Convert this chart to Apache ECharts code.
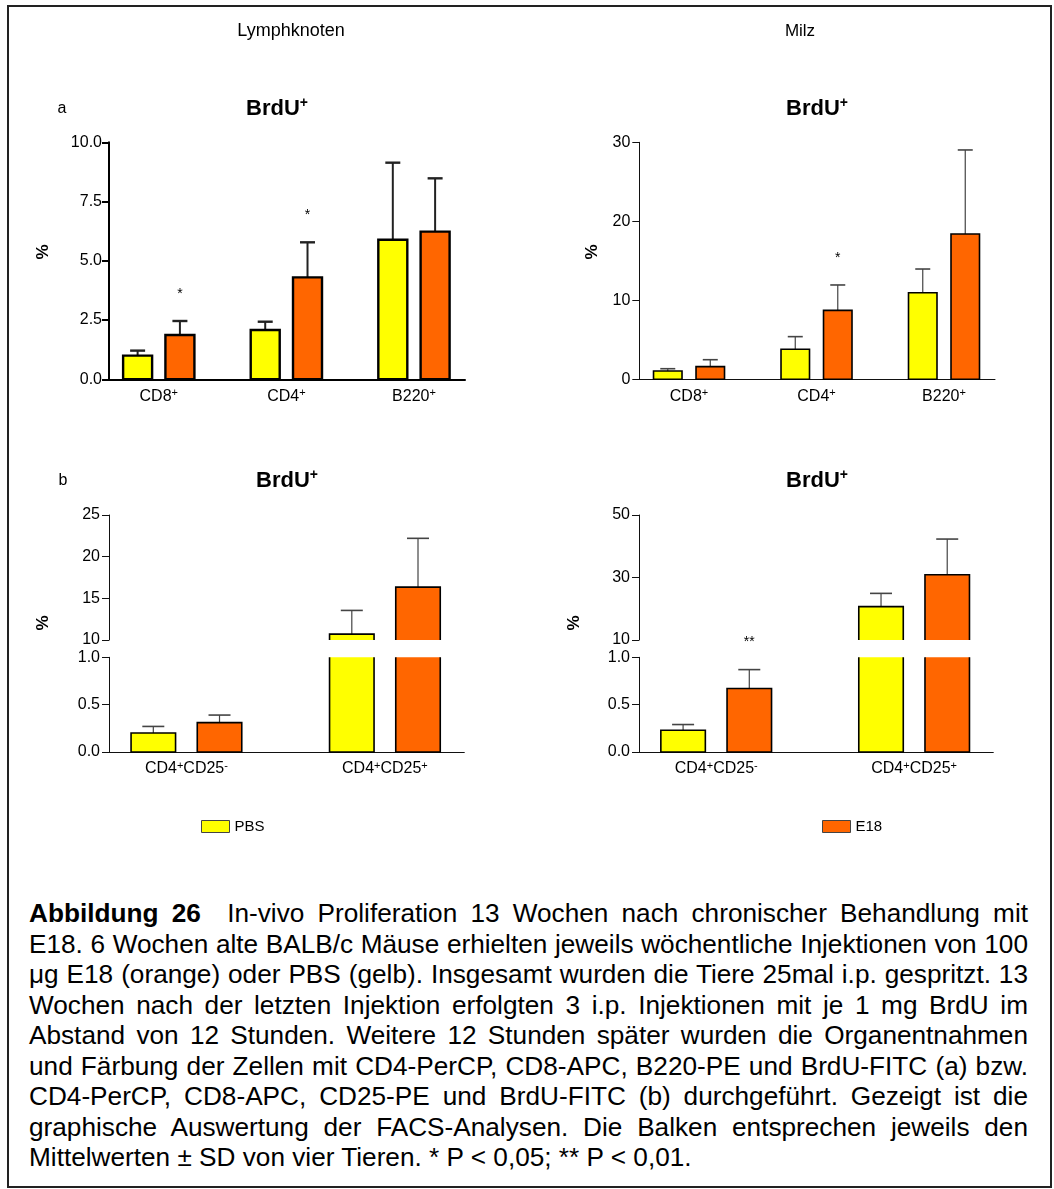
<!DOCTYPE html>
<html>
<head>
<meta charset="utf-8">
<script src="https://cdn.jsdelivr.net/npm/echarts@6/dist/echarts.min.js"></script>
<style>
html, body { margin: 0; padding: 0; background: #fff; }
#frame { position: absolute; left: 7px; top: 5px; width: 1045px; height: 1183px; border: 2px solid #222; box-sizing: border-box; }
#chart { position: absolute; left: 0; top: 0; width: 1054px; height: 870px; }
#caption { position: absolute; left: 29px; top: 898px; width: 999px; font-family: "Liberation Sans", Arial, Helvetica, sans-serif; font-size: 26.2px; line-height: 30.5px; color: #000; }
#caption .j { text-align: justify; text-align-last: justify; white-space: nowrap; }
#caption .l { text-align: left; white-space: nowrap; }
</style>
</head>
<body>
<div id="frame"></div>
<div id="chart"></div>
<div id="caption">
<div class="j"><b>Abbildung 26</b>&nbsp; In-vivo Proliferation 13 Wochen nach chronischer Behandlung mit</div>
<div class="j">E18. 6 Wochen alte BALB/c Mäuse erhielten jeweils wöchentliche Injektionen von 100</div>
<div class="j">μg E18 (orange) oder PBS (gelb). Insgesamt wurden die Tiere 25mal i.p. gespritzt. 13</div>
<div class="j">Wochen nach der letzten Injektion erfolgten 3 i.p. Injektionen mit je 1 mg BrdU im</div>
<div class="j">Abstand von 12 Stunden. Weitere 12 Stunden später wurden die Organentnahmen</div>
<div class="j">und Färbung der Zellen mit CD4-PerCP, CD8-APC, B220-PE und BrdU-FITC (a) bzw.</div>
<div class="j">CD4-PerCP, CD8-APC, CD25-PE und BrdU-FITC (b) durchgeführt. Gezeigt ist die</div>
<div class="j">graphische Auswertung der FACS-Analysen. Die Balken entsprechen jeweils den</div>
<div class="l">Mittelwerten ± SD von vier Tieren. * P &lt; 0,05; ** P &lt; 0,01.</div>
</div>
<script>
// ---------------- DATA ----------------
const catsA = ['CD8+', 'CD4+', 'B220+'];
const catsB = ['CD4+CD25-', 'CD4+CD25+'];

// a) Lymphknoten
const lnA_pbsMean = [1.00, 2.08, 5.89];
const lnA_pbsSD   = [0.21, 0.35, 3.25];
const lnA_e18Mean = [1.87, 4.30, 6.23];
const lnA_e18SD   = [0.59, 1.48, 2.25];
const lnA_sig     = ['*', '*', ''];

// a) Milz
const mzA_pbsMean = [1.05, 3.80, 10.96];
const mzA_pbsSD   = [0.29, 1.60, 3.00];
const mzA_e18Mean = [1.60, 8.73, 18.39];
const mzA_e18SD   = [0.88, 3.21, 10.64];
const mzA_sig     = ['', '*', ''];

// b) Lymphknoten
const lnB_pbsMean = [0.20, 10.70];
const lnB_pbsSD   = [0.07, 2.85];
const lnB_e18Mean = [0.31, 16.35];
const lnB_e18SD   = [0.08, 5.85];
const lnB_sig     = ['', ''];

// b) Milz
const mzB_pbsMean = [0.23, 20.67];
const mzB_pbsSD   = [0.06, 4.25];
const mzB_e18Mean = [0.67, 30.90];
const mzB_e18SD   = [0.20, 11.40];
const mzB_sig     = ['**', ''];

// tick labels
const ticksLnA = [0, 2.5, 5, 7.5, 10];
const ticksMzA = [0, 10, 20, 30];
const ticksLnBup = [10, 15, 20, 25];
const ticksMzBup = [10, 30, 50];
const ticksBlow = [0, 0.5, 1];

// ---------------- STYLE ----------------
const FONT = '"Liberation Sans", Arial, Helvetica, sans-serif';
const YELLOW = '#FFFF00', ORANGE = '#FF6600';
const STY = {
  bold: { axisW: 2, axisColor: '#000', barBorder: 2.4, errW: 2, errColor: '#222', tickLen: 7, labelMargin: 7 },
  thin: { axisW: 1, axisColor: '#111', barBorder: 1.6, errW: 1.2, errColor: '#444', tickLen: 7, labelMargin: 9 }
};

function toRich(label) {
  return label.replace(/([^+\-]+)|([+\-])/g, (m, a, b) => a ? '{n|' + a + '}' : '{s|' + b + '}');
}
const xRich = {
  n: { fontSize: 16, fontFamily: FONT, color: '#000', lineHeight: 18 },
  s: { fontSize: 11, fontFamily: FONT, color: '#000', verticalAlign: 'top', lineHeight: 18 }
};

// segments (grids)
const segments = [
  { left: 109, right: 465, top: 142.3, bottom: 379.3, yMin: 0, yMax: 10, ticks: ticksLnA, dec: 1, showX: true,
    cats: catsA, pm: lnA_pbsMean, ps: lnA_pbsSD, em: lnA_e18Mean, es: lnA_e18SD, sig: lnA_sig,
    sty: STY.bold, barW: 29, off: 21.15, cap: 15 },
  { left: 639.3, right: 995, top: 142.3, bottom: 379.3, yMin: 0, yMax: 30, ticks: ticksMzA, dec: 0, showX: true,
    cats: catsA, pm: mzA_pbsMean, ps: mzA_pbsSD, em: mzA_e18Mean, es: mzA_e18SD, sig: mzA_sig,
    sty: STY.thin, barW: 28.5, off: 21.25, cap: 15 },
  { left: 109, right: 464.3, top: 515, bottom: 640, yMin: 10, yMax: 25, ticks: ticksLnBup, dec: 0, showX: false,
    cats: catsB, pm: lnB_pbsMean, ps: lnB_pbsSD, em: lnB_e18Mean, es: lnB_e18SD, sig: lnB_sig,
    sty: STY.thin, barW: 44.5, off: 33.1, cap: 22 },
  { left: 109, right: 464.3, top: 657.3, bottom: 752, yMin: 0, yMax: 1, ticks: ticksBlow, dec: 1, showX: true,
    cats: catsB, pm: lnB_pbsMean, ps: lnB_pbsSD, em: lnB_e18Mean, es: lnB_e18SD, sig: lnB_sig,
    sty: STY.thin, barW: 44.5, off: 33.1, cap: 22 },
  { left: 639, right: 993.3, top: 515, bottom: 640, yMin: 10, yMax: 50, ticks: ticksMzBup, dec: 0, showX: false,
    cats: catsB, pm: mzB_pbsMean, ps: mzB_pbsSD, em: mzB_e18Mean, es: mzB_e18SD, sig: mzB_sig,
    sty: STY.thin, barW: 44.5, off: 33.1, cap: 22 },
  { left: 639, right: 993.3, top: 657.3, bottom: 752, yMin: 0, yMax: 1, ticks: ticksBlow, dec: 1, showX: true,
    cats: catsB, pm: mzB_pbsMean, ps: mzB_pbsSD, em: mzB_e18Mean, es: mzB_e18SD, sig: mzB_sig,
    sty: STY.thin, barW: 44.5, off: 33.1, cap: 22 }
];

function makeRender(sg, off, sigArr) {
  const st = sg.sty;
  return function (params, api) {
    const x = api.value(0), v = api.value(1), sd = api.value(2);
    const children = [];
    const lo = sg.yMin, hi = Math.min(v, sg.yMax);
    if (hi <= lo) return { type: 'group', children: [] };
    const pB = api.coord([x, lo]);
    const pT = api.coord([x, hi]);
    const cx = pB[0] + off;
    const L = cx - sg.barW / 2, R = cx + sg.barW / 2;
    const yB = pB[1], yT = pT[1];
    children.push({ type: 'rect', shape: { x: L, y: yT, width: R - L, height: yB - yT },
      style: { fill: api.visual('color'), stroke: null } });
    const clipTop = v > sg.yMax, clipBot = sg.yMin > 0;
    const bs = { stroke: '#000', lineWidth: st.barBorder, fill: null };
    if (!clipTop && !clipBot) {
      children.push({ type: 'rect', shape: { x: L, y: yT, width: R - L, height: yB - yT }, style: bs });
    } else if (clipTop) {
      children.push({ type: 'polyline', shape: { points: [[L, yT], [L, yB], [R, yB], [R, yT]] }, style: bs });
    } else {
      children.push({ type: 'polyline', shape: { points: [[L, yB], [L, yT], [R, yT], [R, yB]] }, style: bs });
    }
    if (!clipTop && v + sd <= sg.yMax) {
      const pe = api.coord([x, v + sd]);
      const es = { stroke: st.errColor, lineWidth: st.errW };
      children.push({ type: 'line', shape: { x1: cx, y1: yT, x2: cx, y2: pe[1] }, style: es, z2: -1 });
      children.push({ type: 'line', shape: { x1: cx - sg.cap / 2, y1: pe[1], x2: cx + sg.cap / 2, y2: pe[1] },
        style: { stroke: st.errColor, lineWidth: st.errW + 0.4 } });
      const sig = sigArr ? sigArr[params.dataIndex] : '';
      if (sig) {
        children.push({ type: 'text', x: cx, y: pe[1] - 27,
          style: { text: sig, fill: '#000', font: '14px ' + FONT, align: 'center', verticalAlign: 'middle',
                   textAlign: 'center', textVerticalAlign: 'middle' } });
      }
    }
    return { type: 'group', children };
  };
}

const grid = [], xAxis = [], yAxis = [], series = [];
segments.forEach((sg, i) => {
  const n = sg.cats.length;
  grid.push({ left: sg.left, top: sg.top, width: sg.right - sg.left, height: sg.bottom - sg.top, containLabel: false });
  xAxis.push({
    type: 'value', gridIndex: i, min: 0.61, max: n + 0.4, splitLine: { show: false },
    axisLine: { show: sg.showX, onZero: false, lineStyle: { color: sg.sty.axisColor, width: sg.sty.axisW } },
    axisTick: { show: false },
    axisLabel: { show: sg.showX, customValues: sg.cats.map((_, k) => k + 1), margin: 8,
      formatter: val => { const c = sg.cats[Math.round(val) - 1]; return c ? toRich(c) : ''; },
      rich: xRich }
  });
  yAxis.push({
    type: 'value', gridIndex: i, min: sg.yMin, max: sg.yMax, splitLine: { show: false },
    axisLine: { show: true, onZero: false, lineStyle: { color: sg.sty.axisColor, width: sg.sty.axisW } },
    axisTick: { show: true, length: sg.sty.tickLen, customValues: sg.ticks, lineStyle: { color: sg.sty.axisColor, width: sg.sty.axisW } },
    axisLabel: { customValues: sg.ticks, margin: sg.sty.labelMargin, fontSize: 16, fontFamily: FONT, color: '#000',
      formatter: val => Number(val).toFixed(sg.dec) }
  });
  const groups = [
    { name: 'PBS', mean: sg.pm, sd: sg.ps, off: -sg.off, color: YELLOW, sig: null },
    { name: 'E18', mean: sg.em, sd: sg.es, off: sg.off, color: ORANGE, sig: sg.sig }
  ];
  groups.forEach(g => {
    series.push({
      type: 'custom', name: g.name, xAxisIndex: i, yAxisIndex: i,
      itemStyle: { color: g.color },
      encode: { x: 0, y: 1 },
      data: g.mean.map((m, k) => [k + 1, m, g.sd[k]]),
      renderItem: makeRender(sg, g.off, g.sig),
      silent: true
    });
  });
});

function textEl(x, y, text, font, extra) {
  return Object.assign({ type: 'text', x: x, y: y,
    style: { text: text, font: font, fill: '#000', align: 'center', verticalAlign: 'middle',
             textAlign: 'center', textVerticalAlign: 'middle' } }, extra || {});
}
const titleRich = {
  b: { fontSize: 22, fontWeight: 'bold', fontFamily: FONT, color: '#000', lineHeight: 26 },
  s: { fontSize: 14, fontWeight: 'bold', fontFamily: FONT, color: '#000', verticalAlign: 'top', lineHeight: 26 }
};
function titleEl(x, y) {
  return { type: 'text', x: x, y: y,
    style: { text: '{b|BrdU}{s|+}', rich: titleRich, align: 'center', verticalAlign: 'middle',
             textAlign: 'center', textVerticalAlign: 'middle' } };
}
const graphic = [
  textEl(291, 31, 'Lymphknoten', '18px ' + FONT),
  textEl(800, 31, 'Milz', '17px ' + FONT),
  textEl(62, 109, 'a', '16px ' + FONT),
  textEl(63, 481, 'b', '16px ' + FONT),
  titleEl(277, 109), titleEl(817, 109), titleEl(287, 481), titleEl(817, 481),
  textEl(43, 252, '%', 'bold 17px ' + FONT, { rotation: Math.PI / 2 }),
  textEl(592, 252, '%', 'bold 17px ' + FONT, { rotation: Math.PI / 2 }),
  textEl(43, 623, '%', 'bold 17px ' + FONT, { rotation: Math.PI / 2 }),
  textEl(574, 623, '%', 'bold 17px ' + FONT, { rotation: Math.PI / 2 })
];

const legendBase = { orient: 'horizontal', padding: 0, itemWidth: 28, itemHeight: 12, icon: 'rect',
  itemStyle: { borderColor: '#444', borderWidth: 1 },
  textStyle: { fontSize: 15, fontFamily: FONT, color: '#000', padding: [0, 0, 0, 0] }, selectedMode: false };

const option = {
  animation: false,
  backgroundColor: 'transparent',
  grid, xAxis, yAxis, series, graphic,
  legend: [
    Object.assign({}, legendBase, { data: ['PBS'], left: 201, top: 819 }),
    Object.assign({}, legendBase, { data: ['E18'], left: 822, top: 819 })
  ]
};

const chart = echarts.init(document.getElementById('chart'), null, { renderer: 'canvas' });
chart.setOption(option);
</script>
</body>
</html>
